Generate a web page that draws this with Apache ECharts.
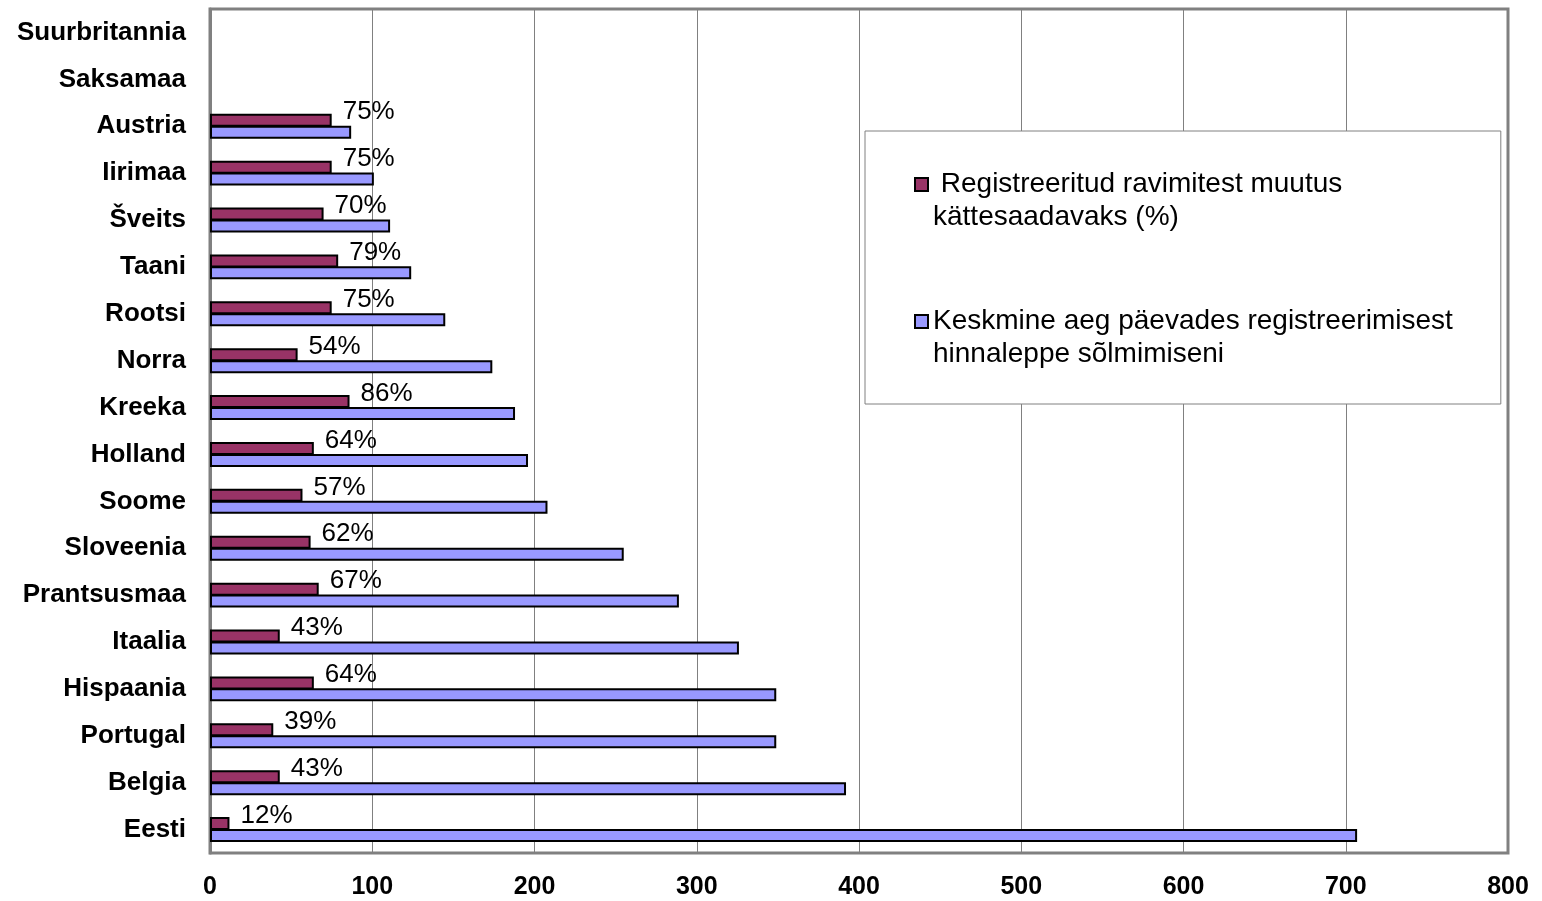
<!DOCTYPE html>
<html>
<head>
<meta charset="utf-8">
<script src="https://cdn.jsdelivr.net/npm/echarts@6/dist/echarts.min.js"></script>
<style>
  html, body { margin: 0; padding: 0; background: #fff; }
  #chart { width: 1542px; height: 901px; }
</style>
</head>
<body>
<div id="chart"></div>
<script>
// riigid alt üles
var countries = ['Eesti', 'Belgia', 'Portugal', 'Hispaania', 'Itaalia', 'Prantsusmaa', 'Sloveenia', 'Soome',
  'Holland', 'Kreeka', 'Norra', 'Rootsi', 'Taani', 'Šveits', 'Iirimaa', 'Austria', 'Saksamaa', 'Suurbritannia'];

// registreeritud ravimitest kättesaadavaks (%)
var availablePct = [12, 43, 39, 64, 43, 67, 62, 57, 64, 86, 54, 75, 79, 70, 75, 75, null, null];

// keskmine aeg päevades
var avgDays = [707, 392, 349, 349, 326, 289, 255, 208, 196, 188, 174, 145, 124, 111, 101, 87, null, null];

var xTicks = [0, 100, 200, 300, 400, 500, 600, 700, 800];

var nameA = ' Registreeritud ravimitest muutus\nkättesaadavaks (%)';
var nameB = 'Keskmine aeg päevades registreerimisest\nhinnaleppe sõlmimiseni';

var chart = echarts.init(document.getElementById('chart'));

var option = {
  animation: false,
  grid: {
    left: 210, right: 34, top: 9, bottom: 48,
    show: true, borderColor: '#808080', borderWidth: 3
  },
  legend: {
    orient: 'vertical',
    left: 865, top: 131,
    padding: [4, 48, 33, 49],
    itemGap: 38,
    itemWidth: 13, itemHeight: 13,
    icon: 'rect',
    backgroundColor: '#fff',
    borderColor: '#808080', borderWidth: 1,
    // tühi rida ees, et ruut jääks esimese rea kõrgusele
    formatter: function (name) { return '\n' + name; },
    textStyle: { fontFamily: 'Arial, Liberation Sans', fontSize: 28, lineHeight: 33, color: '#000' },
    data: [nameA, nameB]
  },
  xAxis: {
    type: 'value',
    min: xTicks[0], max: xTicks[xTicks.length - 1], interval: 100,
    axisLine: { show: false },
    axisTick: { show: false },
    splitLine: { lineStyle: { color: '#808080', width: 1 } },
    axisLabel: { margin: 22, fontFamily: 'Arial, Liberation Sans', fontWeight: 'bold', fontSize: 25, color: '#000' }
  },
  yAxis: {
    type: 'category',
    data: countries,
    axisLine: { lineStyle: { color: '#808080', width: 3 } },
    axisTick: { show: false },
    axisLabel: { margin: 24, fontFamily: 'Arial, Liberation Sans', fontWeight: 'bold', fontSize: 26, color: '#000' }
  },
  series: [
    {
      name: nameA,
      type: 'bar',
      data: availablePct,
      barWidth: 13,
      barGap: '-8%',
      itemStyle: { color: '#993366', borderColor: '#000', borderWidth: 2 },
      label: {
        show: true, position: 'right', offset: [6, -8],
        formatter: '{c}%',
        fontFamily: 'Arial, Liberation Sans', fontSize: 26, color: '#000'
      }
    },
    {
      name: nameB,
      type: 'bar',
      data: avgDays,
      barWidth: 13,
      itemStyle: { color: '#9999FF', borderColor: '#000', borderWidth: 2 }
    }
  ]
};

chart.setOption(option);
</script>
</body>
</html>
